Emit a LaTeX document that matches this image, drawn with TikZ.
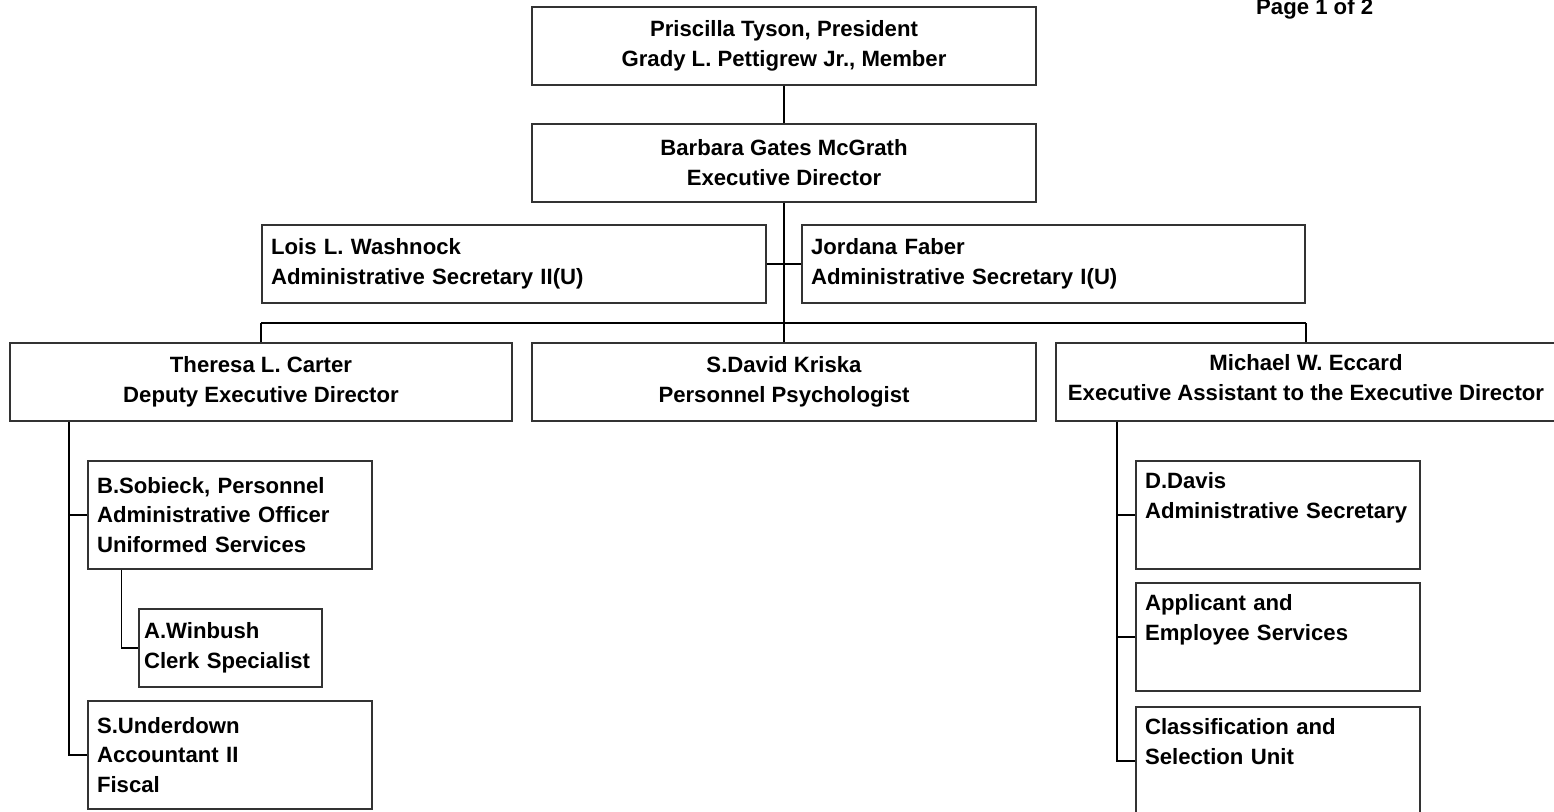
\documentclass[tikz,border=0pt]{standalone}
\usepackage{fontspec}
\setmainfont{Liberation Sans}

\begin{document}
\begin{tikzpicture}[x=0.02cm,y=-0.02cm,
  font=\fontsize{12.6}{17}\selectfont\bfseries,
  box/.style={draw=black!80,line width=0.85pt,minimum height=1.56cm,align=center,inner sep=0pt},
  leftbox/.style={draw=black!80,line width=0.85pt,minimum height=2.16cm,align=left,inner xsep=0.18cm,inner ysep=0pt},
  spine/.style={line width=1.1pt},
  branch/.style={line width=0.6pt}]
\useasboundingbox (0,0) rectangle (1554,811);
\clip (0,0) rectangle (1554,811);
\node[box,minimum width=10.08cm] (board) at (784,46) {Priscilla Tyson, President\\Grady L. Pettigrew Jr., Member};
\node[box,minimum width=10.08cm] (exec) at (784,163) {Barbara Gates McGrath\\Executive Director};
\node[leftbox,minimum height=1.56cm,text width=9.72cm] (wash) at (514,264) {Lois L. Washnock\\Administrative Secretary II(U)};
\node[leftbox,minimum height=1.56cm,text width=9.7cm] (jord) at (1053.5,264) {Jordana Faber\\Administrative Secretary I(U)};
\node[box,minimum width=10.04cm] (carter) at (261,382) {Theresa L. Carter\\Deputy Executive Director};
\node[box,minimum width=10.08cm] (kriska) at (784,382) {S.David Kriska\\Personnel Psychologist};
\node[box,minimum width=10cm] (eccard) at (1306,382) {Michael W. Eccard\\Executive Assistant to the Executive Director\strut};
\node[leftbox,text width=5.32cm] (sobieck) at (230,515) {B.Sobieck, Personnel\\Administrative Officer\\Uniformed Services};
\node[leftbox,minimum height=1.56cm,inner xsep=0.1cm,text width=3.46cm] (winbush) at (230.5,648) {A.Winbush\\Clerk Specialist};
\node[leftbox,text width=5.32cm] (underdown) at (230,755) {S.Underdown\\Accountant II\\Fiscal};
\node[leftbox,text width=5.32cm] (davis) at (1278,515) {D.Davis\\Administrative Secretary\\\strut};
\node[leftbox,text width=5.32cm] (applicant) at (1278,637) {Applicant and\\Employee Services\\\strut};
\node[leftbox,text width=5.32cm] (classif) at (1278,761) {Classification and\\Selection Unit\\\strut};
\node[anchor=base west] (pagenum) at (1250,15) {Page 1 of 2};
\coordinate (bus) at (784,323);
\coordinate (lspine) at ([xshift=1.2cm]carter.south west);
\coordinate (rspine) at ([xshift=1.24cm]eccard.south west);
\coordinate (sobtap) at ([xshift=0.68cm]sobieck.south west);
\draw[branch] (board) -- (exec);
\draw[spine] (exec) -- (bus);
\draw[branch] (wash) -- (jord);
\draw[spine] (bus -| carter) -- (bus -| eccard);
\draw[branch] (bus -| carter) -- (carter);
\draw[branch] (bus) -- (kriska);
\draw[branch] (bus -| eccard) -- (eccard);
\draw[spine] (lspine) |- (underdown.west);
\draw[branch] (lspine |- sobieck.west) -- (sobieck.west);
\draw[branch] (sobtap) |- (winbush.west);
\draw[spine] (rspine) |- (classif.west);
\draw[branch] (rspine |- davis.west) -- (davis.west);
\draw[branch] (rspine |- applicant.west) -- (applicant.west);
\end{tikzpicture}
\end{document}
